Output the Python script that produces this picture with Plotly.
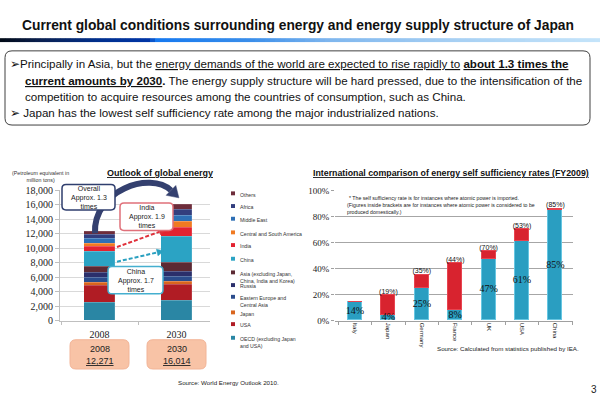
import plotly.graph_objects as go

W, H = 600, 415

# ---------------- data ----------------
years = ["2008", "2030"]
year_totals = ["12,271", "16,014"]
series_names = [
    "OECD (excluding Japan<br>and USA)", "USA", "Japan",
    "Eastern Europe and<br>Central Asia", "Russia",
    "Asia (excluding Japan,<br>China, India and Korea)", "China", "India",
    "Central and South America", "Middle East", "Africa", "Others",
]
series_colors = [
    "#2A86A4", "#B01C24", "#D9651E", "#2B4C8C", "#2B2F6B", "#5C2A34",
    "#2BA3C4", "#E32330", "#F07A22", "#2E6FB5", "#333E7E", "#6E2D3B",
]
vals_2008 = [2550, 2300, 480, 620, 650, 850, 2100, 650, 500, 600, 650, 321]
vals_2030 = [2750, 2200, 450, 650, 700, 1250, 3650, 1200, 850, 900, 800, 614]

countries = ["Italy", "Japan", "Germany", "France", "UK", "USA", "China"]
self_suff = [14, 4, 25, 8, 47, 61, 85]
nuclear_add = [0, 15, 10, 36, 6, 9, 0.7]
bracket_labels = ["", "(19%)", "(35%)", "(44%)", "(70%)", "(53%)", "(85%)"]

# ---------------- helpers ----------------
def px(x):
    return x / W


def py(y):
    return 1 - y / H


SANS = "Liberation Sans, Arial, sans-serif"
SERIF = "Liberation Serif, Times New Roman, serif"

shapes = []
annotations = []


def path_from_px(points, close=True):
    s = "M " + " L ".join(f"{px(x):.5f},{py(y):.5f}" for x, y in points)
    return s + (" Z" if close else "")


def rrect(x0, y0, x1, y1, r, line_color, fill, width=1):
    p = (f"M {px(x0 + r)},{py(y0)} L {px(x1 - r)},{py(y0)} Q {px(x1)},{py(y0)} {px(x1)},{py(y0 + r)} "
         f"L {px(x1)},{py(y1 - r)} Q {px(x1)},{py(y1)} {px(x1 - r)},{py(y1)} "
         f"L {px(x0 + r)},{py(y1)} Q {px(x0)},{py(y1)} {px(x0)},{py(y1 - r)} "
         f"L {px(x0)},{py(y0 + r)} Q {px(x0)},{py(y0)} {px(x0 + r)},{py(y0)} Z")
    shapes.append(dict(type="path", path=p, xref="paper", yref="paper",
                       line=dict(color=line_color, width=width), fillcolor=fill, layer="above"))


def text(x, y, s, size, family=SANS, color="#1a1a1a", xanchor="center", yanchor="middle", align="center"):
    annotations.append(dict(x=px(x), y=py(y), xref="paper", yref="paper", text=s, showarrow=False,
                            xanchor=xanchor, yanchor=yanchor, align=align,
                            font=dict(size=size, family=family, color=color)))


def dashed_arrow(x0, y0, x1, y1, color):
    dx, dy = x1 - x0, y1 - y0
    L = (dx * dx + dy * dy) ** 0.5
    ux, uy = dx / L, dy / L
    bx, by = x1 - 7 * ux, y1 - 7 * uy
    shapes.append(dict(type="line", xref="paper", yref="paper", x0=px(x0), y0=py(y0), x1=px(bx), y1=py(by),
                       line=dict(color=color, width=2, dash="4px,2px"), layer="above"))
    nx, ny = -uy, ux
    shapes.append(dict(type="path", xref="paper", yref="paper",
                       path=path_from_px([(x1, y1), (bx + 3.5 * nx, by + 3.5 * ny), (bx - 3.5 * nx, by - 3.5 * ny)]),
                       fillcolor=color, line=dict(color=color, width=0.5), layer="above"))


# ---------------- traces ----------------
fig = go.Figure()
for i, name in enumerate(series_names):
    fig.add_trace(go.Bar(x=years, y=[vals_2008[i], vals_2030[i]], name=name,
                         marker=dict(color=series_colors[i], line=dict(color="rgba(255,255,255,0.25)", width=0.5)),
                         width=0.4, xaxis="x", yaxis="y", showlegend=False))

fig.add_trace(go.Bar(x=countries, y=self_suff, marker=dict(color="#2A9EC1", line=dict(color="#66C6E2", width=1)),
                     width=0.42, xaxis="x2", yaxis="y2", showlegend=False))
fig.add_trace(go.Bar(x=countries, y=nuclear_add, marker=dict(color="#D8232F", line=dict(color="#E84450", width=1)),
                     width=0.42, xaxis="x2", yaxis="y2", showlegend=False))
fig.add_trace(go.Scatter(x=countries, y=[v / 2 for v in self_suff], text=[f"{v}%" for v in self_suff],
                         mode="text", textfont=dict(family=SERIF, size=10, color="#111"),
                         xaxis="x2", yaxis="y2", showlegend=False))
fig.add_trace(go.Scatter(x=countries, y=[a + b for a, b in zip(self_suff, nuclear_add)], text=bracket_labels,
                         mode="text", textposition="top center", textfont=dict(family=SANS, size=7, color="#111"),
                         xaxis="x2", yaxis="y2", showlegend=False))

# ---------------- header ----------------
text(298, 21, "<b>Current global conditions surrounding energy and energy supply structure of Japan</b>", 13.8, SANS, "#111")

stops = [(0, (0, 8, 20)), (40, (10, 32, 80)), (100, (0, 48, 143)), (152, (0, 53, 168)), (153, (20, 120, 240)),
         (250, (58, 142, 234)), (330, (127, 182, 238)), (450, (165, 207, 243)), (600, (197, 228, 250))]


def grad(x):
    for (xa, ca), (xb, cb) in zip(stops, stops[1:]):
        if xa <= x <= xb:
            t = (x - xa) / (xb - xa) if xb > xa else 0
            return "rgb(%d,%d,%d)" % tuple(round(a + (b - a) * t) for a, b in zip(ca, cb))
    return "rgb(197,228,250)"


for k in range(120):
    x0 = k * 5
    shapes.append(dict(type="rect", xref="paper", yref="paper", x0=px(x0), x1=px(x0 + 5.3), y0=py(38), y1=py(34),
                       fillcolor=grad(x0 + 2.5), line=dict(width=0), layer="above"))

BOX = 11.6
rrect(5, 47, 590, 123, 7, "#404040", "rgba(0,0,0,0)", 1)
text(8, 60, "➢Principally in Asia, but the <u>energy demands of the world are expected to rise rapidly to</u> "
     "<b><u>about 1.3 times the</u></b>", BOX, SANS, "#111", "left")
text(23, 77, "<b><u>current amounts by 2030</u>.</b> The energy supply structure will be hard pressed, due to the "
     "intensification of the", BOX, SANS, "#111", "left")
text(23, 93.5, "competition to acquire resources among the countries of consumption, such as China.", BOX, SANS, "#111", "left")
text(8, 110, "➢ Japan has the lowest self sufficiency rate among the major industrialized nations.", BOX, SANS, "#111", "left")

# ---------------- left chart decorations ----------------
text(160, 172, "<b><u>Outlook of global energy</u></b>", 9, SANS, "#111")
text(40, 176, "(Petroleum equivalent in<br>million tons)", 5.3, SANS, "#333")

# curved overall arrow
P0, P1, P2, P3 = (95, 234), (93, 190), (150, 170), (171, 190)
shapes.append(dict(type="path", xref="paper", yref="paper",
                   path=f"M {px(P0[0])},{py(P0[1])} C {px(P1[0])},{py(P1[1])} {px(P2[0])},{py(P2[1])} {px(P3[0])},{py(P3[1])}",
                   line=dict(color="#34406F", width=6), fillcolor="rgba(0,0,0,0)", layer="above"))
ux, uy = 0.72, 0.69
shapes.append(dict(type="path", xref="paper", yref="paper",
                   path=path_from_px([(P3[0] + 11 * ux, P3[1] + 11 * uy), (P3[0] - 7 * uy, P3[1] + 7 * ux),
                                      (P3[0] + 7 * uy, P3[1] - 7 * ux)]),
                   fillcolor="#34406F", line=dict(color="#34406F", width=0.5), layer="above"))

dashed_arrow(117, 248, 166, 230, "#E0303A")
dashed_arrow(117, 263, 164, 252, "#2AA0C0")

rrect(62, 184, 115, 210, 4, "#2F3E6E", "white", 1.5)
text(88.5, 197, "Overall<br>Approx. 1.3<br>times", 7, SANS, "#222")
rrect(120, 203, 173, 231, 4, "#E0707A", "white", 1.5)
text(146.5, 217, "India<br>Approx. 1.9<br>times", 7, SANS, "#222")
rrect(108, 268, 163, 296, 4, "#45AFCF", "white", 1.5)
text(135.5, 282, "China<br>Approx. 1.7<br>times", 7, SANS, "#222")

# manual legend (top = last series)
leg_y = [341, 327, 315, 299, 287, 274, 260, 246, 233, 219, 206, 193]
for i, name in enumerate(series_names):
    yy = leg_y[i]
    shapes.append(dict(type="rect", xref="paper", yref="paper", x0=px(231), x1=px(235), y0=py(yy + 2), y1=py(yy - 2),
                       fillcolor=series_colors[i], line=dict(width=0), layer="above"))
    text(238, yy - 3.8, name, 5.2, SANS, "#333", "left", "top", "left")

# year total boxes
for cx, yr, tot in zip([99.5, 176.5], years, year_totals):
    rrect(cx - 29.5, 343, cx + 29.5, 373, 6, "#F2B497", "#F8C3A6", 1)
    text(cx, 353, yr, 9, SANS, "#222")
    text(cx, 365, f"<u>{tot}</u>", 9, SANS, "#222")

text(228, 387, "Source: World Energy Outlook 2010.", 6.2, SANS, "#222")

# ---------------- right chart decorations ----------------
text(451, 172, "<b><u>International comparison of energy self sufficiency rates (FY2009)</u></b>", 8.8, SANS, "#111")
text(347, 197.5, "* The self sufficiency rate is for instances where atomic power is imported.", 5.2, SANS, "#222", "left")
text(345, 208.5, "(Figures inside brackets are for instances where atomic power is considered to be<br>produced domestically.)",
     5.2, SANS, "#222", "left", "middle", "left")
text(508, 352, "Source: Calculated from statistics published by IEA.", 6.2, SANS, "#222")
text(594, 394, "3", 10, SANS, "#222")

# ---------------- layout ----------------
y_dom = [1 - 323.3 / H, 1 - 190 / H]
fig.update_layout(
    width=W, height=H, margin=dict(l=0, r=0, t=0, b=0),
    paper_bgcolor="white", plot_bgcolor="white", barmode="stack", bargap=0,
    showlegend=False,
    xaxis=dict(domain=[60 / W, 210 / W], range=[-0.513, 1.435], type="category", showline=True,
               linecolor="#BFBFBF", ticks="outside", tickson="boundaries", ticklen=3, tickcolor="#BFBFBF",
               ticklabelstandoff=4,
               tickfont=dict(family=SERIF, size=10, color="#222"), showgrid=False, fixedrange=True),
    yaxis=dict(domain=y_dom, range=[0, 18000], dtick=2000, tickformat=",d", showline=True, linecolor="#BFBFBF",
               ticks="outside", ticklen=4, tickcolor="#BFBFBF", gridcolor="#D9D9D9", zeroline=False,
               tickfont=dict(family=SERIF, size=10, color="#222")),
    xaxis2=dict(domain=[335 / W, 573 / W], range=[-0.6, 6.526], type="category", anchor="y2", tickangle=90,
                showline=True, linecolor="#A0A0A0", ticks="outside", tickson="boundaries", ticklen=3,
                tickcolor="#A0A0A0", tickfont=dict(family=SANS, size=6, color="#222"), showgrid=False),
    yaxis2=dict(domain=y_dom, range=[0, 100], dtick=20, ticksuffix="%", anchor="x2", showline=False,
                ticks="outside", ticklen=3, tickcolor="#A0A0A0", gridcolor="#A6A6A6", zeroline=False,
                tickfont=dict(family=SERIF, size=9, color="#222")),
    shapes=shapes, annotations=annotations,
)

fig.write_html("out.html", config={"displayModeBar": False},
               post_script="document.body.style.margin='0';document.body.style.overflow='hidden';")
